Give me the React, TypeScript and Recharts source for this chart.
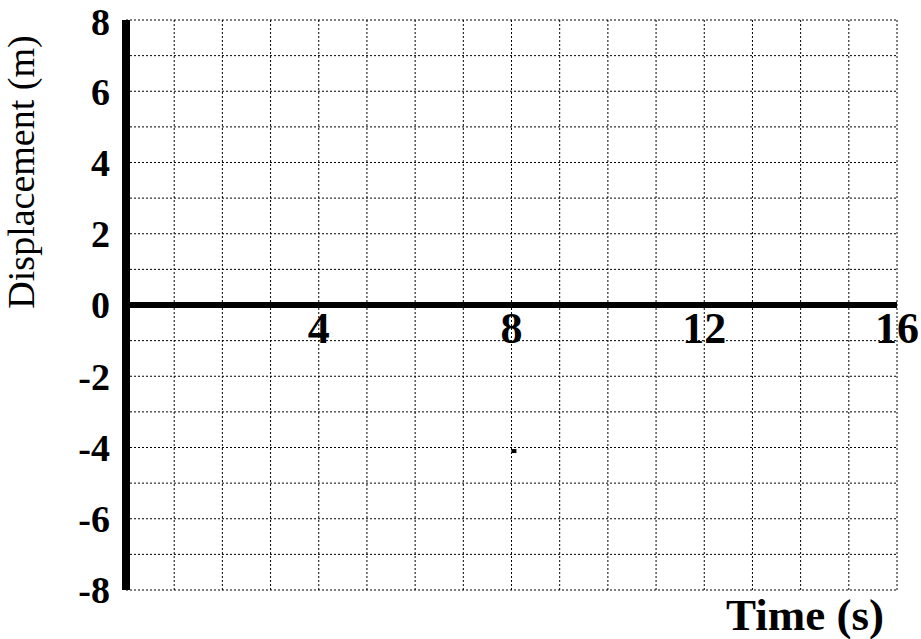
import { ComposedChart, Scatter, XAxis, YAxis, CartesianGrid, ReferenceLine } from 'recharts';

// grid runs every 1 s / 1 m, labels only on some of them
const xGridTicks = [0, 1, 2, 3, 4, 5, 6, 7, 8, 9, 10, 11, 12, 13, 14, 15, 16];
const xTickLabels = [4, 8, 12, 16];
const yGridTicks = [-8, -7, -6, -5, -4, -3, -2, -1, 0, 1, 2, 3, 4, 5, 6, 7, 8];
const yTickLabels = [-8, -6, -4, -2, 0, 2, 4, 6, 8];
// the one stray mark on the sheet
const markPoints = [{ t: 8.05, d: -4.1 }];

const FONT = '"Liberation Serif", "Times New Roman", serif';

const xLabelRows = xTickLabels.map((t) => ({ t, d: 0 }));

const XLabelShape = (props: any) => (
  <text
    x={props.cx}
    y={props.cy + 38}
    textAnchor="middle"
    fontFamily={FONT}
    fontWeight="bold"
    fontSize={44}
    fill="#000"
  >
    {props.payload.t}
  </text>
);

const MarkShape = (props: any) => (
  <rect x={props.cx - 2.5} y={props.cy - 2} width={5} height={4} fill="#000" />
);

// keeps the ticks (and so the vertical grid) but draws no label on the bottom axis
const EmptyTick = () => <g />;

const YLabel = () => (
  <text
    x={0}
    y={0}
    transform="translate(34, 172) rotate(-90)"
    textAnchor="middle"
    fontFamily={FONT}
    fontSize={38}
    fill="#000"
  >
    Displacement (m)
  </text>
);

const XLabel = () => (
  <text
    x={805}
    y={630}
    textAnchor="middle"
    fontFamily={FONT}
    fontWeight="bold"
    fontSize={45}
    fill="#000"
  >
    Time (s)
  </text>
);

export default function App() {
  return (
    <div style={{ position: 'absolute', left: 0, top: 0, background: '#fff' }}>
      <ComposedChart width={921} height={639} margin={{ top: 20, right: 24, bottom: 19, left: 0 }}>
        <CartesianGrid stroke="#000" strokeDasharray="2 2" strokeWidth={1} />
        <XAxis
          type="number"
          dataKey="t"
          domain={[0, 16]}
          ticks={xGridTicks}
          tick={EmptyTick}
          axisLine={false}
          tickLine={false}
          height={30}
          label={{ content: () => <XLabel /> }}
        />
        <YAxis
          type="number"
          dataKey="d"
          domain={[-8, 8]}
          ticks={yGridTicks}
          width={126}
          axisLine={{ stroke: '#000', strokeWidth: 8 }}
          tickLine={false}
          tickSize={14}
          tickMargin={2}
          tickFormatter={(v: number) => (yTickLabels.includes(v) ? String(v) : '')}
          tick={{ fontFamily: FONT, fontWeight: 'bold', fontSize: 38, fill: '#000' }}
          label={{ content: () => <YLabel /> }}
        />
        <ReferenceLine y={0} stroke="#000" strokeWidth={6} />
        <Scatter data={xLabelRows} shape={XLabelShape} isAnimationActive={false} />
        <Scatter data={markPoints} shape={MarkShape} isAnimationActive={false} />
      </ComposedChart>
    </div>
  );
}
